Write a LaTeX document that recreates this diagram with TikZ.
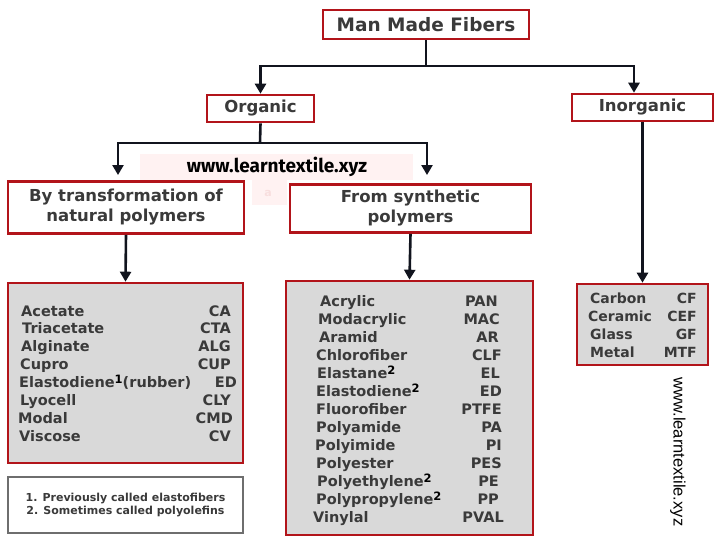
\documentclass[tikz,border=0pt]{standalone}
\usepackage{fontspec}
\setmainfont{DejaVu Sans}
\newfontfamily\wmfont{Fira Sans}
\newfontfamily\arialfont{Liberation Sans}
\usetikzlibrary{arrows.meta}
\definecolor{bred}{RGB}{178,20,26}
\definecolor{txt}{RGB}{58,58,58}
\definecolor{lgray}{RGB}{217,217,217}
\definecolor{pinkov}{RGB}{255,240,240}
\definecolor{pinka}{RGB}{248,222,222}
\definecolor{conncol}{RGB}{17,20,30}
\definecolor{fnborder}{RGB}{110,110,110}
\newcommand\supnum[1]{\raisebox{4.5pt}{\color{black}\fontsize{11.5}{11}\selectfont#1}}
\begin{document}
\begin{tikzpicture}[x=1pt,y=-1pt,
 hbox/.style={draw=bred,line width=2.6pt,fill=white,text=txt,font=\bfseries\fontsize{16.5}{20}\selectfont,inner sep=0pt,align=center},
 lbox/.style={draw=bred,line width=2.6pt,fill=lgray,inner sep=0pt},
 conn/.style={line width=2.6pt,draw=conncol},
 arr/.style={conn,-{Triangle[width=11pt,length=10pt]}},
 nm/.style={anchor=base west,inner sep=0pt,text=txt,font=\bfseries\fontsize{14.5}{16}\selectfont},
 cd/.style={anchor=base east,inner sep=0pt,text=txt,font=\bfseries\fontsize{14.5}{16}\selectfont},
]
\fill[white] (0,0) rectangle (718,547);
\useasboundingbox (0,0) rectangle (718,547);

% header boxes
\node[hbox,minimum width=206pt,minimum height=29pt,font=\bfseries\fontsize{18.5}{22}\selectfont] (mmf) at (426,24.5) {Man Made Fibers};
\node[hbox,minimum width=107pt,minimum height=27pt] (org) at (260.5,108.5) {Organic};
\node[hbox,minimum width=141pt,minimum height=27pt] (inorg) at (642.5,107.5) {Inorganic};
\node[hbox,minimum width=236pt,minimum height=52pt] (b1) at (126,207.5) {By transformation of\\natural polymers};
\node[hbox,minimum width=241pt,minimum height=48pt] (b2) at (410.5,208.5) {From synthetic\\polymers};

% list boxes
\node[lbox,minimum width=235pt,minimum height=180pt] (l1) at (125.5,373) {};
\node[lbox,minimum width=247pt,minimum height=254pt] (l2) at (409.5,408) {};
\node[lbox,minimum width=131pt,minimum height=81pt] (l3) at (642.5,324.5) {};
\node[draw=fnborder,line width=2.6pt,fill=white,minimum width=235pt,minimum height=56pt,inner sep=0pt,
  text=txt,font=\bfseries\fontsize{11}{12.5}\selectfont,align=center] (fn) at (125.5,505)
  {1. Previously called elastofibers\\2. Sometimes called polyolefins};

% connectors
\coordinate (j1) at (426,66);
\coordinate (j1r) at (634,66);
\coordinate (j2) at (260,143);
\coordinate (j2l) at (118,143);
\coordinate (j2r) at (427,143);
\coordinate (t1) at (118,175);
\coordinate (t2) at (427,175);
\draw[conn] (mmf.south) -- (j1);
\draw[arr] (j1) -| (org.north);
\draw[arr] (j1) -- (j1r) -- ([xshift=-8.5pt]inorg.north);
\draw[conn] (org.south) -- (j2);
\draw[arr] (j2) -- (j2l) -- (t1);
\draw[arr] (j2) -- (j2r) -- (t2);
\draw[arr] (b1.south) -- (l1.north);
\draw[arr] (b2.south) -- (l2.north);
\draw[arr] (inorg.south) -- (l3.north);

% pink watermark background
\fill[pinkov,opacity=0.85] (140,154) rectangle (413,180);
\fill[pinkov,opacity=0.85] (252,180) rectangle (287,205);
\node[text=pinka,font=\bfseries\fontsize{11}{12}\selectfont,inner sep=0pt] (wa) at (268,193) {a};
\node[font=\wmfont\bfseries\fontsize{19}{20}\selectfont,text=black,inner sep=0pt] (wm) at (277,167) {www.learntextile.xyz};

% list 1
\foreach \nx/\n/\cx/\c [count=\i from 0] in {
  21/Acetate/231/CA, 22/Triacetate/231/CTA, 21/Alginate/231/ALG, 20/Cupro/231/CUP,
  19/{Elastodiene\supnum{1}(rubber)}/237/ED, 20/Lyocell/231/CLY, 18/Modal/233/CMD, 19/Viscose/231/CV}
{
  \node[nm] (la\i) at (\nx,316+17.9*\i) {\n};
  \node[cd] (lac\i) at (\cx,316+17.9*\i) {\c};
}

% list 2
\foreach \nx/\n/\cx/\c [count=\i from 0] in {
  320/Acrylic/498/PAN, 318/Modacrylic/500/MAC, 319/Aramid/499/AR, 316/Chlorofiber/502/CLF,
  317/{Elastane\supnum{2}}/500/EL, 316/{Elastodiene\supnum{2}}/502/ED, 316/Fluorofiber/502/PTFE,
  316/Polyamide/502/PA, 315/Polyimide/502/PI, 316/Polyester/502/PES,
  317/{Polyethylene\supnum{2}}/499/PE, 316/{Polypropylene\supnum{2}}/499/PP, 313/Vinylal/504/PVAL}
{
  \node[nm] (lb\i) at (\nx,306.5+18*\i) {\n};
  \node[cd] (lbc\i) at (\cx,306.5+18*\i) {\c};
}

% list 3
\foreach \nx/\n/\cx/\c [count=\i from 0] in {
  590/Carbon/697/CF, 588/Ceramic/697/CEF, 590/Glass/697/GF, 590/Metal/697/MTF}
{
  \node[nm,font=\bfseries\fontsize{14}{16}\selectfont] (lc\i) at (\nx,303.5+18*\i) {\n};
  \node[cd,font=\bfseries\fontsize{14}{16}\selectfont] (lcc\i) at (\cx,303.5+18*\i) {\c};
}

% vertical watermark
\node[rotate=-90,font=\arialfont\fontsize{16.5}{18}\selectfont,text=black,inner sep=0pt] (wm2) at (678,452) {www.learntextile.xyz};
\end{tikzpicture}
\end{document}
